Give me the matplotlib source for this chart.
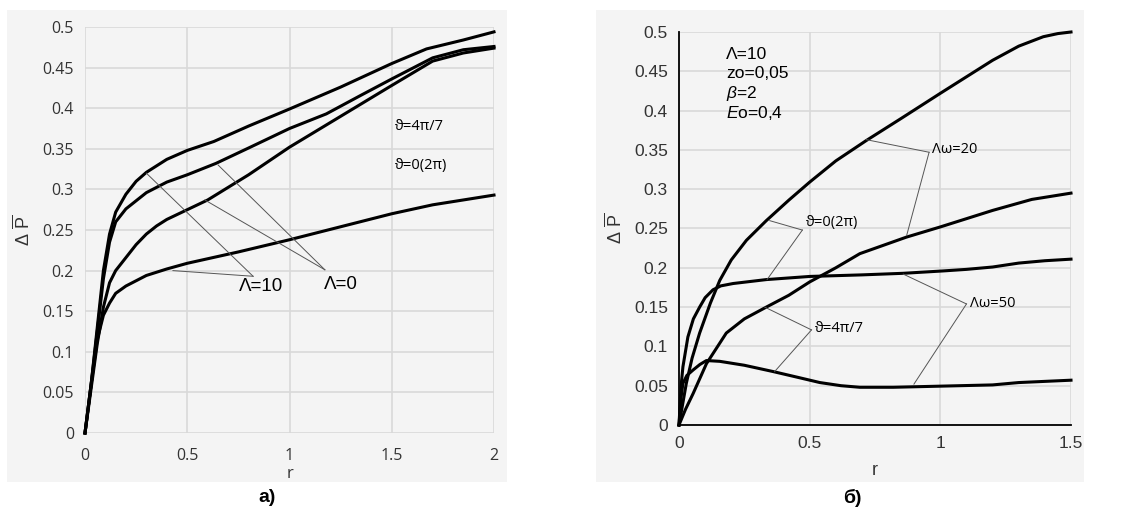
import numpy as np
import matplotlib
matplotlib.use("Agg")
import matplotlib.pyplot as plt
from matplotlib.patches import Rectangle

plt.rcParams['font.family'] = ['Liberation Sans', 'DejaVu Sans']
plt.rcParams['mathtext.fontset'] = 'custom'
plt.rcParams['mathtext.rm'] = 'Liberation Sans'
plt.rcParams['mathtext.it'] = 'Liberation Sans:italic'

# panel a) curves
a_r1 = [0, 0.03, 0.06, 0.09, 0.12, 0.15, 0.2, 0.25, 0.3, 0.35, 0.4, 0.5, 0.63, 0.8, 1.0, 1.25, 1.5, 1.67, 1.85, 2.0]
a_p1 = [0, 0.06, 0.13, 0.2, 0.245, 0.272, 0.294, 0.31, 0.321, 0.329, 0.337, 0.348, 0.359, 0.378, 0.399, 0.426, 0.455, 0.473, 0.484, 0.494]
a_r2 = [0, 0.03, 0.06, 0.09, 0.12, 0.15, 0.2, 0.3, 0.4, 0.5, 0.64, 0.8, 1.0, 1.18, 1.35, 1.5, 1.7, 1.85, 2.0]
a_p2 = [0, 0.06, 0.125, 0.19, 0.235, 0.26, 0.276, 0.296, 0.309, 0.318, 0.332, 0.351, 0.375, 0.393, 0.416, 0.436, 0.462, 0.472, 0.476]
a_r3 = [0, 0.03, 0.06, 0.09, 0.12, 0.15, 0.2, 0.25, 0.3, 0.35, 0.4, 0.5, 0.6, 0.8, 1.0, 1.25, 1.5, 1.7, 1.85, 2.0]
a_p3 = [0, 0.055, 0.11, 0.155, 0.185, 0.2, 0.216, 0.232, 0.245, 0.255, 0.263, 0.275, 0.287, 0.318, 0.352, 0.39, 0.428, 0.458, 0.468, 0.474]
a_r4 = [0, 0.03, 0.06, 0.09, 0.12, 0.15, 0.2, 0.3, 0.4, 0.5, 0.75, 1.0, 1.25, 1.5, 1.7, 2.0]
a_p4 = [0, 0.06, 0.115, 0.145, 0.16, 0.172, 0.181, 0.194, 0.202, 0.209, 0.223, 0.238, 0.254, 0.27, 0.281, 0.293]

# panel b) curves
b_rA = [0, 0.028, 0.05, 0.079, 0.12, 0.156, 0.2, 0.258, 0.334, 0.42, 0.5, 0.6, 0.717, 0.85, 1.0, 1.2, 1.3, 1.394, 1.45, 1.5]
b_pA = [0, 0.053, 0.085, 0.117, 0.155, 0.184, 0.21, 0.235, 0.26, 0.286, 0.309, 0.336, 0.362, 0.39, 0.422, 0.464, 0.482, 0.494, 0.498, 0.5]
b_rB = [0, 0.008, 0.015, 0.034, 0.055, 0.079, 0.1, 0.13, 0.16, 0.207, 0.334, 0.5, 0.7, 0.858, 1.01, 1.1, 1.2, 1.3, 1.4, 1.5]
b_pB = [0, 0.05, 0.074, 0.112, 0.135, 0.15, 0.162, 0.172, 0.177, 0.18, 0.185, 0.189, 0.191, 0.193, 0.196, 0.198, 0.201, 0.206, 0.209, 0.211]
b_rC = [0, 0.025, 0.054, 0.105, 0.181, 0.25, 0.334, 0.42, 0.5, 0.6, 0.692, 0.87, 1.0, 1.2, 1.35, 1.5]
b_pC = [0, 0.02, 0.04, 0.078, 0.117, 0.135, 0.15, 0.165, 0.182, 0.2, 0.218, 0.239, 0.252, 0.273, 0.287, 0.295]
b_rD = [0, 0.008, 0.015, 0.03, 0.054, 0.08, 0.105, 0.156, 0.25, 0.36, 0.45, 0.539, 0.62, 0.692, 0.82, 1.01, 1.2, 1.3, 1.5]
b_pD = [0, 0.035, 0.053, 0.063, 0.07, 0.077, 0.082, 0.081, 0.076, 0.068, 0.061, 0.054, 0.05, 0.048, 0.048, 0.0495, 0.051, 0.054, 0.057]

a_xticks = [0, 0.5, 1, 1.5, 2]
b_xticks = [0, 0.5, 1, 1.5]
yticks = [0, 0.05, 0.1, 0.15, 0.2, 0.25, 0.3, 0.35, 0.4, 0.45, 0.5]

W, H = 1124, 515
fig = plt.figure(figsize=(W / 100, H / 100), dpi=100)
bg = '#f4f4f4'
grid_c = '#d9d9d9'
ofont = ['Open Sans', 'DejaVu Sans']

# panel backgrounds
fig.patches.append(Rectangle((7 / W, 1 - 482 / H), 500 / W, 472 / H,
                             transform=fig.transFigure, facecolor=bg, edgecolor='none', zorder=-10))
fig.patches.append(Rectangle((596 / W, 1 - 482 / H), 488 / W, 472 / H,
                             transform=fig.transFigure, facecolor=bg, edgecolor='none', zorder=-10))

ax1 = fig.add_axes([85 / W, 1 - 433 / H, 409 / W, 406 / H])
ax2 = fig.add_axes([679 / W, 1 - 425 / H, 392 / W, 393 / H])

for ax, xt, xmax in [(ax1, a_xticks, 2), (ax2, b_xticks, 1.5)]:
    ax.set_facecolor(bg)
    ax.set_xlim(0, xmax)
    ax.set_ylim(0, 0.5)
    ax.set_xticks(xt)
    ax.set_xticklabels(['%g' % v for v in xt])
    ax.set_yticks(yticks)
    ax.set_yticklabels(['%g' % v for v in yticks])
    ax.tick_params(length=0, labelsize=12.5, colors='#333333', pad=8)
    ax.grid(True, color=grid_c, linewidth=1.2)
    ax.set_axisbelow(True)
    for s in ax.spines.values():
        s.set_visible(False)
    ax.set_ylabel(r'$\Delta\ \overline{\mathrm{P}}$', fontsize=13, color='#333333', labelpad=6)

for lab in ax1.get_xticklabels() + ax1.get_yticklabels():
    lab.set_family(ofont)
    lab.set_fontsize(11.5)
ax1.tick_params(axis='x', pad=11)
ax1.set_xlabel('r', fontsize=12, color='#333333', labelpad=1, family=ofont)
ax2.set_xlabel('r', fontsize=13, color='#333333', labelpad=8)

ax2.spines['left'].set_visible(True)
ax2.spines['bottom'].set_visible(True)
for side in ['left', 'bottom']:
    ax2.spines[side].set_color('black')
    ax2.spines[side].set_linewidth(1.3)

lw = 2.2
for r, p in [(a_r1, a_p1), (a_r2, a_p2), (a_r3, a_p3), (a_r4, a_p4)]:
    ax1.plot(r, p, color='black', lw=lw, solid_joinstyle='round', clip_on=False)
for r, p in [(b_rA, b_pA), (b_rB, b_pB), (b_rC, b_pC), (b_rD, b_pD)]:
    ax2.plot(r, p, color='black', lw=lw, solid_joinstyle='round', clip_on=False)

lc = '#555555'
llw = 0.7


def leader(ax, vertex, targets):
    for t in targets:
        ax.plot([vertex[0], t[0]], [vertex[1], t[1]], color=lc, lw=llw)


# panel a) annotations
leader(ax1, (0.822, 0.193), [(0.30, 0.32), (0.43, 0.2)])
ax1.text(0.863, 0.181, 'Λ=10', fontsize=13.5, ha='center', va='center')
leader(ax1, (1.173, 0.201), [(0.651, 0.33), (0.586, 0.287)])
ax1.text(1.25, 0.183, 'Λ=0', fontsize=13.5, ha='center', va='center')
ax1.text(1.515, 0.378, 'ϑ=4π/7', fontsize=10.5, ha='left', va='center', family=ofont)
ax1.text(1.515, 0.33, 'ϑ=0(2π)', fontsize=10.5, ha='left', va='center', family=ofont)

# panel b) annotations
leader(ax2, (0.957, 0.347), [(0.717, 0.363), (0.871, 0.241)])
ax2.text(0.97, 0.35, 'Λω=20', fontsize=10.5, ha='left', va='center', family=ofont)
leader(ax2, (0.472, 0.248), [(0.347, 0.26), (0.337, 0.185)])
ax2.text(0.485, 0.257, 'ϑ=0(2π)', fontsize=10.5, ha='left', va='center', family=ofont)
leader(ax2, (1.1, 0.154), [(0.858, 0.192), (0.899, 0.052)])
ax2.text(1.115, 0.155, 'Λω=50', fontsize=10.5, ha='left', va='center', family=ofont)
leader(ax2, (0.507, 0.121), [(0.328, 0.15), (0.366, 0.068)])
ax2.text(0.52, 0.123, 'ϑ=4π/7', fontsize=10.5, ha='left', va='center', family=ofont)

ax2.text(0.179, 0.472, 'Λ=10', fontsize=12.5, ha='left', va='center')
ax2.text(0.179, 0.447, 'zo=0,05', fontsize=12.5, ha='left', va='center')
ax2.text(0.179, 0.422, r'$\it{\beta}$=2', fontsize=12.5, ha='left', va='center')
ax2.text(0.179, 0.397, r'$\it{E}$o=0,4', fontsize=12.5, ha='left', va='center')

fig.text(267 / W, 1 - 498 / H, 'а)', fontsize=14, fontweight='bold', ha='center', va='center')
fig.text(852 / W, 1 - 498 / H, 'б)', fontsize=14, fontweight='bold', ha='center', va='center')

fig.savefig('out.png', dpi=100)
